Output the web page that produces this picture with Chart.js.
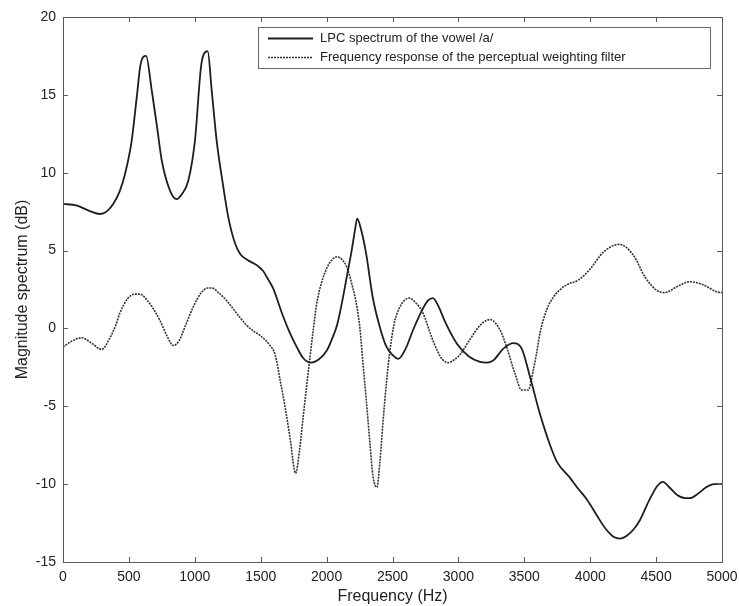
<!DOCTYPE html>
<html>
<head>
<meta charset="utf-8">
<script src="https://cdn.jsdelivr.net/npm/chart.js@4/dist/chart.umd.min.js"></script>
<style>
html,body{margin:0;padding:0;background:#fff;}
canvas{display:block;}
</style>
</head>
<body>
<canvas id="c" width="739" height="606"></canvas>
<script>
// Frequency (Hz) / magnitude (dB) pairs
const lpcFreq = [0,100,200,281,330,382,430,470,521,559,589,630,673,711,749,812,862,900,951,1001,1052,1098,1128,1166,1217,1254,1300,1343,1400,1442,1480,1517,1560,1593,1669,1722,1780,1822,1880,1940,2003,2040,2079,2120,2155,2190,2215,2232,2260,2300,2350,2400,2450,2500,2545,2600,2656,2720,2770,2807,2850,2900,2990,3080,3164,3217,3265,3341,3417,3480,3543,3619,3700,3750,3847,3900,3976,4050,4120,4180,4226,4280,4330,4378,4450,4510,4552,4600,4660,4720,4757,4820,4880,4940,5000];
const lpcDb = [8.0,7.9,7.55,7.35,7.5,8.0,8.8,9.9,12.05,14.8,16.97,17.5,15.3,13.1,10.8,8.85,8.3,8.6,9.5,12.05,17.1,17.8,15.3,12.05,9.05,7.15,5.6,4.8,4.4,4.2,4.0,3.7,3.1,2.6,0.8,-0.3,-1.3,-1.9,-2.2,-2.0,-1.4,-0.7,0.2,1.8,3.4,5.0,6.3,7.05,6.4,4.8,2.0,0.2,-1.1,-1.7,-1.95,-1.3,-0.1,1.1,1.8,1.95,1.4,0.4,-1.0,-1.8,-2.15,-2.2,-2.05,-1.3,-0.95,-1.3,-3.1,-5.5,-7.6,-8.6,-9.6,-10.2,-11.0,-12.0,-12.9,-13.4,-13.5,-13.3,-12.9,-12.3,-11.0,-10.1,-9.85,-10.2,-10.7,-10.9,-10.9,-10.6,-10.2,-10.0,-10.0];

const pwfFreq = [0,60,142,210,293,350,400,432,490,540,584,640,690,736,790,837,880,930,989,1050,1100,1128,1180,1240,1292,1343,1394,1450,1495,1571,1610,1647,1690,1722,1765,1795,1822,1850,1874,1900,1925,1960,2003,2040,2079,2120,2155,2190,2231,2253,2276,2300,2329,2352,2382,2405,2428,2455,2481,2510,2534,2557,2590,2625,2670,2731,2790,2838,2880,2921,2970,3020,3065,3120,3164,3240,3316,3366,3429,3480,3530,3568,3595,3619,3670,3720,3760,3821,3909,3998,4100,4221,4328,4416,4504,4567,4656,4757,4858,4960,5000];
const pwfDb = [-1.2,-0.85,-0.6,-0.9,-1.35,-0.7,0.2,1.0,1.9,2.2,2.2,1.8,1.2,0.5,-0.5,-1.1,-0.8,0.2,1.4,2.3,2.6,2.6,2.3,1.8,1.25,0.7,0.2,-0.2,-0.45,-1.1,-1.7,-3.3,-5.3,-7.0,-9.3,-7.8,-5.7,-3.6,-1.85,0.0,1.6,2.9,3.9,4.4,4.6,4.4,3.9,2.9,1.35,0.0,-2.25,-4.5,-7.4,-9.5,-10.2,-8.5,-6.0,-3.4,-1.4,0.2,0.95,1.4,1.8,1.95,1.7,1.0,-0.4,-1.4,-2.0,-2.2,-2.0,-1.6,-1.0,-0.3,0.2,0.57,-0.1,-1.2,-2.9,-3.95,-3.95,-2.7,-1.5,-0.3,1.2,2.0,2.4,2.8,3.1,3.8,4.9,5.4,4.7,3.3,2.45,2.3,2.67,3.0,2.8,2.35,2.3];

const seriesNames = ['LPC spectrum of the vowel /a/', 'Frequency response of the perceptual weighting filter'];
const xTitle = 'Frequency (Hz)';
const yTitle = 'Magnitude spectrum (dB)';

const toPts = (xs, ys) => xs.map((x, i) => ({x: x, y: ys[i]}));

const FONT = 'Arial, "Liberation Sans", sans-serif';
const AXIS_COLOR = '#5a5a5a';

const framePlugin = {
  id: 'frame',
  afterDraw(chart) {
    const ctx = chart.ctx;
    const a = chart.chartArea;
    const xs = chart.scales.x, ys = chart.scales.y;
    ctx.save();
    ctx.strokeStyle = AXIS_COLOR;
    ctx.lineWidth = 1;
    ctx.strokeRect(Math.round(a.left) + 0.5, Math.round(a.top) + 0.5, Math.round(a.right - a.left), Math.round(a.bottom - a.top));
    const tl = 5;
    ctx.beginPath();
    xs.ticks.forEach(t => {
      const px = Math.round(xs.getPixelForValue(t.value)) + 0.5;
      ctx.moveTo(px, a.bottom); ctx.lineTo(px, a.bottom - tl);
      ctx.moveTo(px, a.top); ctx.lineTo(px, a.top + tl);
    });
    ys.ticks.forEach(t => {
      const py = Math.round(ys.getPixelForValue(t.value)) + 0.5;
      ctx.moveTo(a.left, py); ctx.lineTo(a.left + tl, py);
      ctx.moveTo(a.right, py); ctx.lineTo(a.right - tl, py);
    });
    ctx.stroke();

    // legend box
    const bx = 258.5, by = 27.5, bw = 452, bh = 41;
    ctx.fillStyle = '#fff';
    ctx.fillRect(bx, by, bw, bh);
    ctx.strokeStyle = '#666';
    ctx.strokeRect(bx, by, bw, bh);
    ctx.font = '13px ' + FONT;
    ctx.textBaseline = 'middle';
    ctx.fillStyle = '#222';
    const rows = [38, 57];
    chart.data.datasets.forEach((ds, i) => {
      const y = rows[i] + 0.5;
      ctx.save();
      ctx.strokeStyle = ds.borderColor;
      ctx.lineWidth = ds.borderWidth;
      ctx.setLineDash(ds.borderDash || []);
      ctx.beginPath();
      ctx.moveTo(268, y); ctx.lineTo(313, y);
      ctx.stroke();
      ctx.restore();
      ctx.fillText(ds.label, 320, rows[i]);
    });
    ctx.restore();
  }
};

new Chart(document.getElementById('c'), {
  type: 'line',
  data: {
    datasets: [
      {
        label: seriesNames[0],
        data: toPts(lpcFreq, lpcDb),
        borderColor: '#1e1e1e',
        borderWidth: 1.8,
        pointRadius: 0,
        fill: false,
        cubicInterpolationMode: 'monotone'
      },
      {
        label: seriesNames[1],
        data: toPts(pwfFreq, pwfDb),
        borderColor: '#333333',
        borderWidth: 1.6,
        borderDash: [2, 1],
        pointRadius: 0,
        fill: false,
        cubicInterpolationMode: 'monotone'
      }
    ]
  },
  options: {
    responsive: false,
    animation: false,
    devicePixelRatio: 1,
    layout: { padding: { left: 0, right: 17, top: 17, bottom: 0 } },
    plugins: { legend: { display: false }, tooltip: { enabled: false } },
    scales: {
      x: {
        type: 'linear', min: 0, max: 5000,
        grid: { display: false, drawTicks: false },
        border: { display: false },
        ticks: { stepSize: 500, padding: 7, color: '#222', font: { family: FONT, size: 14 }, maxRotation: 0,
                 callback: v => String(v) },
        title: { display: true, text: xTitle, color: '#222', font: { family: FONT, size: 16 }, padding: { top: 0, bottom: 0 } },
        afterFit(s) { s.height = 44; s.paddingLeft = 0; s.paddingRight = 0; }
      },
      y: {
        type: 'linear', min: -15, max: 20,
        grid: { display: false, drawTicks: false },
        border: { display: false },
        ticks: { stepSize: 5, padding: 7, color: '#222', font: { family: FONT, size: 14 } },
        title: { display: true, text: yTitle, color: '#222', font: { family: FONT, size: 16 }, padding: { top: 13, bottom: 0 } },
        afterFit(s) { s.width = 63; s.paddingTop = 0; s.paddingBottom = 0; }
      }
    }
  },
  plugins: [framePlugin]
});
</script>
</body>
</html>
